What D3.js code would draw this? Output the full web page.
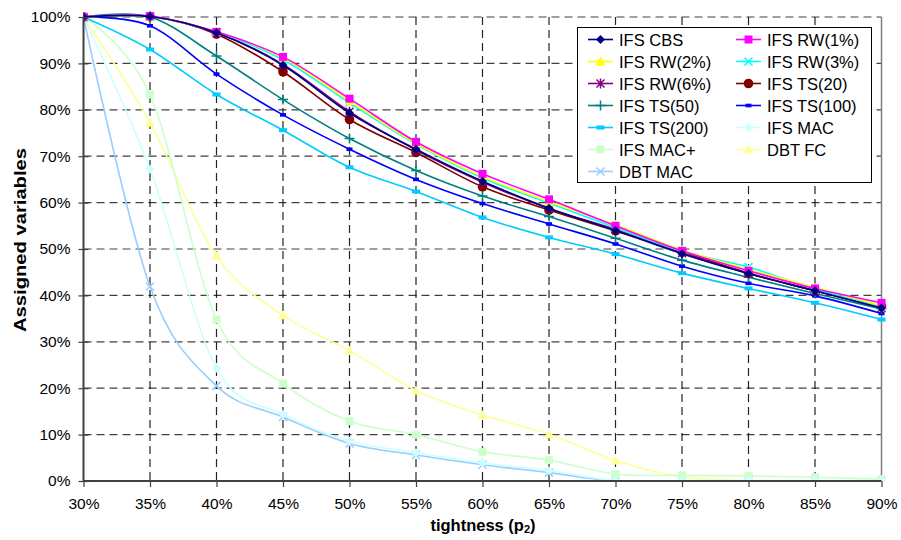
<!DOCTYPE html>
<html>
<head>
<meta charset="utf-8">
<script src="https://cdn.jsdelivr.net/npm/d3@7"></script>
<style>
  html, body { margin: 0; padding: 0; background: #fff; }
  text { font-family: "Liberation Sans", Arial, sans-serif; }
</style>
</head>
<body>
<svg id="chart" width="901" height="540"></svg>
<script>
// ---------------- DATA ----------------
const xValues = [30, 35, 40, 45, 50, 55, 60, 65, 70, 75, 80, 85, 90];
const yTicks = [0, 10, 20, 30, 40, 50, 60, 70, 80, 90, 100];

const seriesNames = ["IFS CBS", "IFS RW(1%)", "IFS RW(2%)", "IFS RW(3%)", "IFS RW(6%)",
  "IFS TS(20)", "IFS TS(50)", "IFS TS(100)", "IFS TS(200)", "IFS MAC", "IFS MAC+", "DBT FC", "DBT MAC"];

const ifsCBS   = [100, 100.1, 96.6, 89.6, 79.3, 71.5, 64.6, 58.8, 54.0, 49.0, 44.7, 41.0, 37.3];
const ifsRW1   = [100, 100.2, 96.8, 91.4, 82.4, 73.1, 66.2, 60.7, 55.0, 49.6, 45.3, 41.5, 38.4];
const ifsRW2   = [100, 100.1, 96.8, 91.2, 81.9, 72.8, 65.6, 60.2, 55.2, 49.8, 45.6, 41.7, 37.8];
const ifsRW3   = [100, 100.1, 96.7, 90.8, 81.5, 72.6, 65.3, 59.9, 54.6, 49.5, 46.1, 41.3, 37.6];
const ifsRW6   = [100, 100.1, 96.6, 89.8, 79.6, 71.3, 64.4, 58.7, 54.2, 49.1, 44.7, 41.0, 37.3];
const ifsTS20  = [100, 100.1, 96.3, 88.2, 77.9, 70.8, 63.4, 58.4, 53.9, 49.4, 44.8, 41.0, 37.6];
const ifsTS50  = [100, 100.0, 91.6, 82.2, 73.8, 66.9, 61.4, 57.0, 52.3, 47.6, 43.9, 40.4, 37.1];
const ifsTS100 = [100, 98.1, 87.7, 78.9, 71.5, 65.0, 59.8, 55.4, 51.1, 46.3, 42.6, 39.9, 36.1];
const ifsTS200 = [100, 93.0, 83.3, 75.6, 67.6, 62.4, 56.8, 52.5, 48.9, 44.8, 41.5, 38.4, 34.8];
const ifsMAC   = [100, 67.2, 24.3, 14.4, 8.6, 6.1, 3.9, 2.2, 0.1, 0.1, 0.1, 0.1, 0.1];
const ifsMACp  = [100, 83.3, 34.8, 21.0, 12.9, 10.0, 6.3, 4.5, 1.5, 1.2, 1.1, 0.8, 0.4];
const dbtFC    = [100, 77.2, 48.5, 35.7, 28.1, 19.5, 14.2, 10.1, 4.4, 0.9, 0.1, 0.0, 0.0];
const dbtMAC   = [100, 41.9, 20.5, 13.8, 8.1, 5.6, 3.5, 1.8, 0.0, 0.0, 0.0, 0.0, 0.0];

const seriesValues = [ifsCBS, ifsRW1, ifsRW2, ifsRW3, ifsRW6, ifsTS20, ifsTS50, ifsTS100, ifsTS200, ifsMAC, ifsMACp, dbtFC, dbtMAC];
const seriesColors = ["#000080", "#FF00FF", "#FFFF00", "#00FFFF", "#800080", "#800000", "#008080",
  "#0000FF", "#00CCFF", "#CCFFFF", "#CCFFCC", "#FFFF99", "#99CCFF"];
const seriesMarkers = ["diamond", "square", "triangle", "x", "star", "circle", "plus",
  "dashS", "dashL", "diamond", "square", "triangle", "x"];

// ---------------- CHART ----------------
const svg = d3.select("#chart");
const L = 83.5, R = 881.5, T = 17, B = 481;
const x = d3.scaleLinear().domain([30, 90]).range([L, R]);
const y = d3.scaleLinear().domain([0, 100]).range([B, T]);

// gridlines
const grid = svg.append("g");
grid.selectAll("line.h").data(yTicks.filter(d => d > 0)).join("line")
  .attr("x1", L).attr("x2", R).attr("y1", d => y(d)).attr("y2", d => y(d))
  .attr("stroke", "#000").attr("stroke-width", 1.2).attr("stroke-dasharray", "8,5").attr("opacity", 0.75);
grid.selectAll("line.v").data(xValues.filter(d => d > 30 && d < 90)).join("line")
  .attr("x1", d => x(d)).attr("x2", d => x(d)).attr("y1", T).attr("y2", B)
  .attr("stroke", "#000").attr("stroke-width", 1.2).attr("stroke-dasharray", "8,5").attr("opacity", 0.85);
// right border
svg.append("line").attr("x1", R).attr("x2", R).attr("y1", T).attr("y2", B)
  .attr("stroke", "#808080").attr("stroke-width", 1.5);

// clip
svg.append("clipPath").attr("id", "clip").append("rect")
  .attr("x", L).attr("y", T - 6).attr("width", R - L + 6).attr("height", B - T + 6);

const line = d3.line().x((d, i) => x(xValues[i])).y(d => y(d)).curve(d3.curveCardinal.tension(0));

function drawMarker(g, type, cx, cy, color) {
  const s = g.append("g").attr("transform", `translate(${cx},${cy})`);
  switch (type) {
    case "diamond":
      s.append("path").attr("d", "M0,-4.5L4.5,0L0,4.5L-4.5,0Z").attr("fill", color); break;
    case "square":
      s.append("rect").attr("x", -4).attr("y", -4).attr("width", 8).attr("height", 8).attr("fill", color); break;
    case "triangle":
      s.append("path").attr("d", "M0,-5L5,4L-5,4Z").attr("fill", color); break;
    case "x":
      s.append("path").attr("d", "M-4,-4L4,4M-4,4L4,-4").attr("stroke", color).attr("stroke-width", 1.5); break;
    case "star":
      s.append("path").attr("d", "M-4,-4L4,4M-4,4L4,-4M0,-5L0,5").attr("stroke", color).attr("stroke-width", 1.5); break;
    case "circle":
      s.append("circle").attr("r", 4.8).attr("fill", color); break;
    case "plus":
      s.append("path").attr("d", "M-5,0L5,0M0,-5L0,5").attr("stroke", color).attr("stroke-width", 1.5); break;
    case "dashS":
      s.append("rect").attr("x", -3).attr("y", -1.8).attr("width", 6).attr("height", 3.6).attr("fill", color); break;
    case "dashL":
      s.append("rect").attr("x", -4).attr("y", -2).attr("width", 8).attr("height", 4).attr("fill", color); break;
  }
}

// draw series: light ones first (in reverse order so that main ones on top)
const order = d3.range(seriesNames.length).reverse();
const plot = svg.append("g").attr("clip-path", "url(#clip)");
order.forEach(k => {
  const g = plot.append("g");
  g.append("path").datum(seriesValues[k]).attr("d", line)
    .attr("fill", "none").attr("stroke", seriesColors[k]).attr("stroke-width", 1.6);
  seriesValues[k].forEach((v, i) => drawMarker(g, seriesMarkers[k], x(xValues[i]), y(v), seriesColors[k]));
});

// axes
svg.append("line").attr("x1", L).attr("x2", L).attr("y1", T).attr("y2", B + 0.5)
  .attr("stroke", "#404040").attr("stroke-width", 2);
svg.append("line").attr("x1", L).attr("x2", R).attr("y1", B).attr("y2", B)
  .attr("stroke", "#404040").attr("stroke-width", 2);

const yAxis = d3.axisLeft(y).tickValues(yTicks).tickFormat(d => d + "%").tickSize(0).tickPadding(13);
const ya = svg.append("g").attr("transform", `translate(${L},0)`).call(yAxis);
ya.select(".domain").remove();
ya.selectAll("text").attr("font-size", 15.5).attr("fill", "#000")
  .attr("font-family", "'Liberation Sans', Arial, sans-serif");
ya.selectAll(".tick").append("line").attr("x1", -5).attr("x2", 5).attr("stroke", "#404040").attr("stroke-width", 1.2);

const xAxis = d3.axisBottom(x).tickValues(xValues).tickFormat(d => d + "%").tickSize(0).tickPadding(17);
const xa = svg.append("g").attr("transform", `translate(0,${B})`).call(xAxis);
xa.select(".domain").remove();
xa.selectAll("text").attr("font-size", 15.5).attr("fill", "#000")
  .attr("font-family", "'Liberation Sans', Arial, sans-serif");
xa.selectAll(".tick").append("line").attr("y1", 0).attr("y2", 6).attr("stroke", "#404040").attr("stroke-width", 1.2);

// axis titles
const xt = svg.append("text").attr("x", 483).attr("y", 531).attr("text-anchor", "middle")
  .attr("font-size", 16.5).attr("font-weight", "bold");
xt.append("tspan").text("tightness (p");
xt.append("tspan").attr("font-size", 11).attr("dy", 2).text("2");
xt.append("tspan").attr("dy", -2).text(")");

svg.append("text").attr("transform", "translate(26,240) rotate(-90)").attr("text-anchor", "middle")
  .attr("font-size", 16.5).attr("font-weight", "bold")
  .attr("textLength", 184).attr("lengthAdjust", "spacingAndGlyphs").text("Assigned variables");

// legend
const lg = svg.append("g");
lg.append("rect").attr("x", 577.5).attr("y", 27.5).attr("width", 294).attr("height", 155)
  .attr("fill", "#fff").attr("stroke", "#000").attr("stroke-width", 1);
seriesNames.forEach((name, k) => {
  const col = k % 2, row = Math.floor(k / 2);
  const lx = col === 0 ? 588 : 736;
  const ly = 39.5 + row * 22;
  lg.append("line").attr("x1", lx).attr("x2", lx + 25).attr("y1", ly).attr("y2", ly)
    .attr("stroke", seriesColors[k]).attr("stroke-width", 1.6);
  drawMarker(lg, seriesMarkers[k], lx + 12.5, ly, seriesColors[k]);
  lg.append("text").attr("x", lx + 31).attr("y", ly + 6).attr("font-size", 16.5).attr("fill", "#000").text(name);
});
</script>
</body>
</html>
